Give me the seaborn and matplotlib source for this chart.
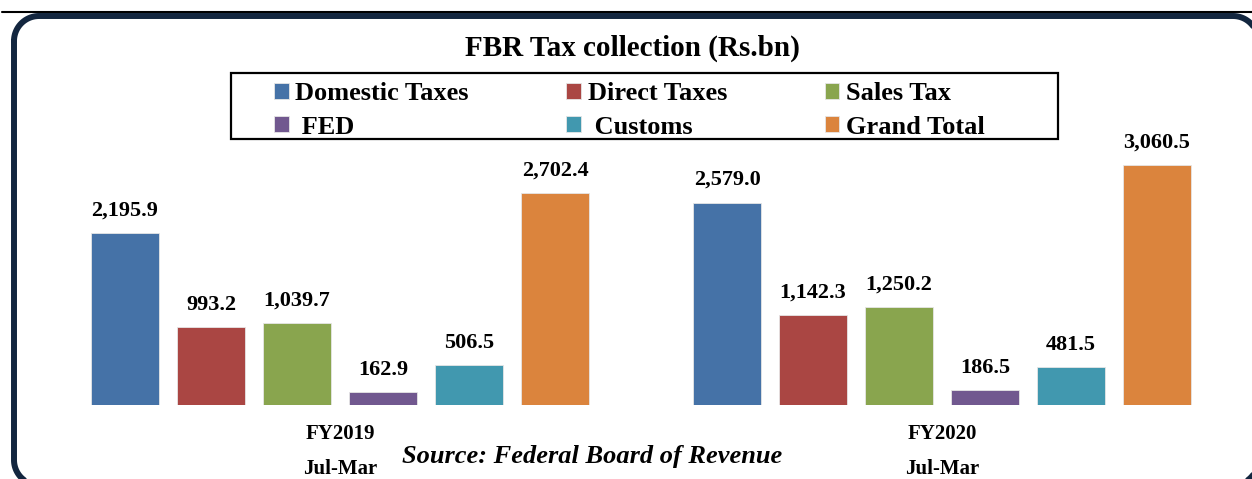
import matplotlib
matplotlib.use("Agg")
import matplotlib.pyplot as plt
import matplotlib.patches as mpatches
from matplotlib.lines import Line2D
import seaborn as sns
import pandas as pd
import numpy as np

# ---- data ----
periods = ["FY2019\nJul-Mar", "FY2020\nJul-Mar"]
categories = ["Domestic Taxes", "Direct Taxes", "Sales Tax", "FED", "Customs", "Grand Total"]
fy2019 = [2195.9, 993.2, 1039.7, 162.9, 506.5, 2702.4]
fy2020 = [2579.0, 1142.3, 1250.2, 186.5, 481.5, 3060.5]
colors = ["#4572A7", "#AA4643", "#89A54E", "#71588F", "#4198AF", "#DB843D"]

rows = []
for p, vals in zip(periods, [fy2019, fy2020]):
    for c, v in zip(categories, vals):
        rows.append({"period": p, "category": c, "value": v})
df = pd.DataFrame(rows)

sns.set_theme(style="white")
plt.rcParams["font.family"] = ["Liberation Serif", "DejaVu Serif"]
plt.rcParams["font.weight"] = "bold"
plt.rcParams["text.color"] = "black"
plt.rcParams["xtick.color"] = "black"

W, H = 1252, 479
fig = plt.figure(figsize=(W / 100, H / 100), dpi=100)
ax = fig.add_axes([0, (H - 405) / H, 1, 405 / H])
ax.patch.set_visible(False)

sns.barplot(data=df, x="period", y="value", hue="category", hue_order=categories,
            order=periods, palette=colors, saturation=1, width=0.857, gap=0.21,
            legend=False, edgecolor="#e6e6e6", linewidth=0.6, ax=ax)

ax.set_xlim(-340 / 602, (W - 340) / 602)
ax.set_ylim(0, 405 / 0.0785)
for s in ax.spines.values():
    s.set_visible(False)
ax.set_yticks([])
ax.set_xlabel("")
ax.set_ylabel("")
ax.tick_params(axis="x", length=0, pad=13.5)
for lab in ax.get_xticklabels():
    lab.set_fontsize(15)
    lab.set_fontweight("bold")
    lab.set_linespacing(2.05)
    lab.set_color("black")

for cont in ax.containers:
    ax.bar_label(cont, fmt="{:,.1f}", padding=9, fontsize=16, fontweight="bold", color="black")

# legend
order = [0, 3, 1, 4, 2, 5]
leg_labels = ["Domestic Taxes", "Direct Taxes", "Sales Tax", " FED", " Customs", "Grand Total"]
handles = [ax.containers[i] for i in order]
labels = [leg_labels[i] for i in order]
fig.legend(handles, labels, ncol=3, frameon=False, loc="center left",
           bbox_to_anchor=(261 / W, 1 - 110.5 / H),
           prop={"weight": "bold", "size": 19},
           handlelength=0.55, handleheight=0.55, handletextpad=0.25,
           columnspacing=3.7, labelspacing=0.4, borderpad=0)

# legend box
fig.patches.append(mpatches.Rectangle((231 / W, 1 - 139 / H), 827 / W, 66 / H,
                                      transform=fig.transFigure, fill=False,
                                      edgecolor="black", linewidth=1.6))

# title and source
fig.text(632 / W, 1 - 48 / H, "FBR Tax collection (Rs.bn)", ha="center", va="center",
         fontsize=21, fontweight="bold", color="black")
fig.text(592 / W, 1 - 457 / H, "Source: Federal Board of Revenue", ha="center", va="center",
         fontsize=19, fontweight="bold", fontstyle="italic", color="black")

# decorative frame: top rule and rounded border (pixel coords, top-origin)
fig.lines.append(Line2D([2 / W, 1], [1 - 12 / H, 1 - 12 / H], transform=fig.transFigure,
                        color="black", linewidth=1.5))
left, top, right, bottom, r = 14, 16, 1258, 485, 25
t = np.linspace(0, np.pi / 2, 30)
px, py = [], []
px += list(left + r - r * np.cos(t)); py += list(top + r - r * np.sin(t))
px += list(right - r + r * np.sin(t)); py += list(top + r - r * np.cos(t))
px += list(right - r + r * np.cos(t)); py += list(bottom - r + r * np.sin(t))
px += list(left + r - r * np.sin(t)); py += list(bottom - r + r * np.cos(t))
px.append(px[0]); py.append(py[0])
fig.lines.append(Line2D(np.array(px) / W, 1 - np.array(py) / H, transform=fig.transFigure,
                        color="#13263F", linewidth=4.3, solid_joinstyle="round"))

fig.savefig("out.png", dpi=100)
